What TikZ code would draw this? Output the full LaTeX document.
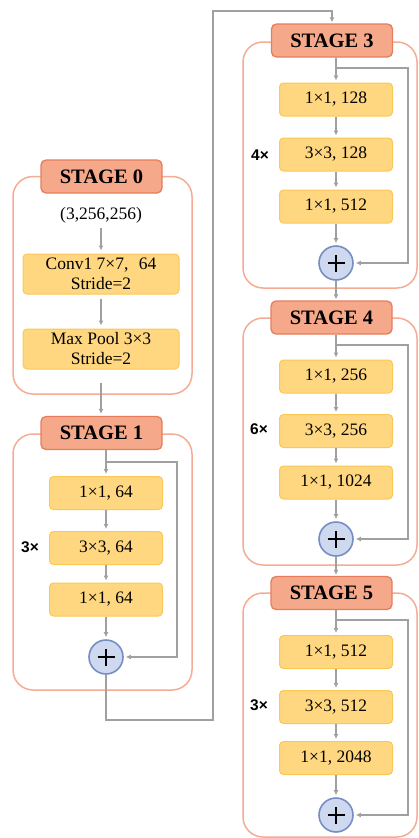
\documentclass[tikz,border=0pt]{standalone}
\usepackage{fontspec}
\setmainfont{Liberation Serif}
\newfontfamily\repfont{Liberation Sans}
\usetikzlibrary{arrows.meta}

\definecolor{titlefill}{RGB}{245,168,138}
\definecolor{titleline}{RGB}{230,125,92}
\definecolor{frameline}{RGB}{244,172,148}
\definecolor{boxfill}{RGB}{255,215,128}
\definecolor{boxline}{RGB}{250,200,85}
\definecolor{sumfill}{RGB}{206,217,240}
\definecolor{sumline}{RGB}{118,142,196}
\definecolor{flowgray}{RGB}{160,160,160}

\tikzset{
  stagetitle/.style={draw=titleline, fill=titlefill, line width=1.3pt,
    rounded corners=5pt, minimum width=121pt, minimum height=33pt,
    inner sep=0pt, font=\fontsize{20.5}{24}\selectfont\bfseries},
  stageframe/.style={draw=frameline, line width=1.5pt, rounded corners=20pt},
  layer/.style={draw=boxline, fill=boxfill, line width=1pt, rounded corners=4pt,
    minimum width=113pt, minimum height=33pt, inner sep=0pt,
    font=\fontsize{17.5}{20}\selectfont},
  widelayer/.style={layer, minimum width=156pt, minimum height=40pt, align=center},
  sum/.style={circle, draw=sumline, fill=sumfill, line width=1.6pt,
    minimum size=34pt, inner sep=0pt,
    path picture={
      \draw[black, line width=2.6pt]
        ([xshift=-8.5pt]path picture bounding box.center) --
        ([xshift=8.5pt]path picture bounding box.center)
        ([yshift=-8.5pt]path picture bounding box.center) --
        ([yshift=8.5pt]path picture bounding box.center);}},
  repcount/.style={font=\repfont\fontsize{15.5}{17}\selectfont\bfseries},
  wire/.style={draw=flowgray, line width=1.4pt},
  flow/.style={wire, -{Latex[length=5pt,width=5pt]}},
}

\begin{document}
\begin{tikzpicture}[x=1pt, y=-1pt]
\useasboundingbox (0,0) rectangle (419,838);

% ---------- stage frames (behind everything) ----------
\draw[stageframe] (13,176.5) rectangle (192,394);
\draw[stageframe] (13,434) rectangle (192,690);
\draw[stageframe] (243,42) rectangle (417,288);
\draw[stageframe] (243,318) rectangle (417,565);
\draw[stageframe] (243,593) rectangle (417,837);

% ---------- stage 0 ----------
\node[stagetitle] (t0) at (101.5,176.5) {STAGE 0};
\node[font=\fontsize{17.5}{20}\selectfont] (in0) at (101,215) {(3,256,256)};
\node[widelayer] (c0) at (101,274) {Conv1 7×7,\hspace{0.6em}64\\Stride=2};
\node[widelayer] (p0) at (101,349) {Max Pool 3×3\\Stride=2};
\draw[flow, shorten <=2pt, shorten >=3pt] (in0) -- (c0);
\draw[flow, shorten <=4pt, shorten >=3pt] (c0) -- (p0);

% ---------- stage 1 ----------
\node[stagetitle] (t1) at (101.5,433) {STAGE 1};
\node[layer] (b11) at (106,493) {1×1, 64};
\node[layer] (b12) at (106,548) {3×3, 64};
\node[layer] (b13) at (106,599.5) {1×1, 64};
\node[sum] (s1) at (106,657) {};
\node[repcount] (r1) at (30,547) {3×};
\draw[flow, shorten <=13pt, shorten >=2pt] (p0.south) -- (p0.south |- t1.north);
\coordinate (j1) at (106,462);
\draw[flow, shorten >=2pt] (b11.north |- t1.south) -- (b11);
\draw[flow, shorten >=2pt] (b11) -- (b12);
\draw[flow, shorten >=2pt] (b12) -- (b13);
\draw[flow, shorten >=2pt] (b13) -- (s1);
\draw[flow, shorten >=2pt] (j1) -- ++(71,0) |- (s1);

% ---------- link from stage 1 to stage 3 ----------
\node[stagetitle] (t3) at (332,40.5) {STAGE 3};
\coordinate (k1) at (213,720);
\coordinate (k2) at (213,11);
\draw[flow, shorten >=1pt] (s1) |- (k1) -- (k2) -| (t3);

% ---------- stage 3 ----------
\node[layer] (b31) at (336,99.5) {1×1, 128};
\node[layer] (b32) at (336,154.5) {3×3, 128};
\node[layer] (b33) at (336,206.5) {1×1, 512};
\node[sum] (s3) at (336,263) {};
\node[repcount] (r3) at (260,155) {4×};
\coordinate (j3) at (336,68);
\draw[flow, shorten >=2pt] (b31.north |- t3.south) -- (b31);
\draw[flow, shorten >=2pt] (b31) -- (b32);
\draw[flow, shorten >=2pt] (b32) -- (b33);
\draw[flow, shorten >=2pt] (b33) -- (s3);
\draw[flow, shorten >=2pt] (j3) -- ++(72,0) |- (s3);

% ---------- stage 4 ----------
\node[stagetitle] (t4) at (331.5,317.5) {STAGE 4};
\node[layer] (b41) at (336,376.5) {1×1, 256};
\node[layer] (b42) at (336,431) {3×3, 256};
\node[layer] (b43) at (336,482.5) {1×1, 1024};
\node[sum] (s4) at (336,539) {};
\node[repcount] (r4) at (259,429) {6×};
\coordinate (j4) at (336,345);
\draw[flow, shorten >=1pt] (s3.south) -- (s3.south |- t4.north);
\draw[flow, shorten >=2pt] (b41.north |- t4.south) -- (b41);
\draw[flow, shorten >=2pt] (b41) -- (b42);
\draw[flow, shorten >=2pt] (b42) -- (b43);
\draw[flow, shorten >=2pt] (b43) -- (s4);
\draw[flow, shorten >=2pt] (j4) -- ++(72,0) |- (s4);

% ---------- stage 5 ----------
\node[stagetitle] (t5) at (331.5,593) {STAGE 5};
\node[layer] (b51) at (336,652) {1×1, 512};
\node[layer] (b52) at (336,707) {3×3, 512};
\node[layer] (b53) at (336,758) {1×1, 2048};
\node[sum] (s5) at (336,815) {};
\node[repcount] (r5) at (259,705) {3×};
\coordinate (j5) at (336,620);
\draw[flow, shorten >=1pt] (s4.south) -- (s4.south |- t5.north);
\draw[flow, shorten >=2pt] (b51.north |- t5.south) -- (b51);
\draw[flow, shorten >=2pt] (b51) -- (b52);
\draw[flow, shorten >=2pt] (b52) -- (b53);
\draw[flow, shorten >=2pt] (b53) -- (s5);
\draw[flow, shorten >=2pt] (j5) -- ++(72,0) |- (s5);
\end{tikzpicture}
\end{document}
